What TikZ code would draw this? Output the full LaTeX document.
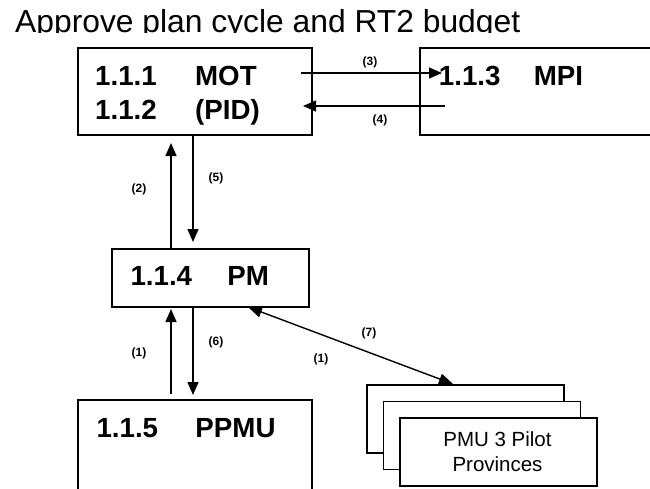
\documentclass[tikz,border=0pt]{standalone}
\usepackage{fontspec}
\setmainfont{Liberation Sans}
\usetikzlibrary{arrows.meta}
\tikzset{
  boxnode/.style={draw=black, line width=1.8pt, fill=white, rectangle, inner sep=0pt, anchor=north west},
  boldtext/.style={inner sep=0pt, anchor=base west, font=\bfseries\fontsize{27.7}{34}\selectfont},
  plaintext/.style={inner sep=0pt, anchor=base, font=\fontsize{20.5}{25}\selectfont},
  numlbl/.style={inner sep=0pt, font=\bfseries\fontsize{12}{13}\selectfont},
  conn/.style={line width=1.4pt, -{Triangle[length=13pt,width=11pt]}},
  dconn/.style={line width=1.4pt, {Triangle[length=14pt,width=11pt]}-{Triangle[length=14pt,width=11pt]}}
}
\begin{document}
\begin{tikzpicture}[x=1pt,y=-1pt]
\useasboundingbox (0,0) rectangle (650,488);
% title, clipped at its baseline as in the reference
\begin{scope}
\clip (0,0) rectangle (650,32.3);
\node[inner sep=0pt, anchor=base west, font=\fontsize{31.8}{36}\selectfont] (title) at (15,32.8) {Approve plan cycle and RT2 budget};
\end{scope}
% boxes
\node[boxnode, minimum width=234pt, minimum height=87pt] (mot) at (77,47) {};
\node[boxnode, minimum width=240pt, minimum height=87pt] (mpi) at (419,47) {};
\node[boxnode, minimum width=197pt, minimum height=58pt] (pm) at (111,248) {};
\node[boxnode, minimum width=234pt, minimum height=95pt] (ppmu) at (77,399) {};
\node[boxnode, minimum width=197pt, minimum height=68pt] (pmua) at (366,384.3) {};
\node[boxnode, minimum width=197pt, minimum height=68pt] (pmub) at (382.5,400.6) {};
\node[boxnode, minimum width=197pt, minimum height=68pt] (pmuc) at (399,417) {};
% box texts
\node[boldtext] (mottext) at (95,85) {\makebox[100pt][l]{1.1.1}MOT};
\node[boldtext] (pidtext) at (95,119.3) {\makebox[100pt][l]{1.1.2}(PID)};
\node[boldtext] (mpitext) at (438.7,85) {\makebox[95pt][l]{1.1.3}MPI};
\node[boldtext] (pmtext) at (130.3,285.7) {\makebox[97pt][l]{1.1.4}PM};
\node[boldtext] (ppmutext) at (96.3,437.7) {\makebox[99pt][l]{1.1.5}PPMU};
\node[plaintext] (pmutext1) at (497.5,446.7) {PMU 3 Pilot};
\node[plaintext] (pmutext2) at (497.5,471.7) {Provinces};
% connector end points
\coordinate (a3s) at (301,73);   \coordinate (a3e) at (442,73);
\coordinate (a4s) at (445,106);  \coordinate (a4e) at (303,106);
\coordinate (a2s) at (171,248);  \coordinate (a2e) at (171,143);
\coordinate (a5s) at (193,134);  \coordinate (a5e) at (193,242);
\coordinate (a1s) at (171,394);  \coordinate (a1e) at (171,309);
\coordinate (a6s) at (193,307);  \coordinate (a6e) at (193,395);
\coordinate (a7s) at (248,307);  \coordinate (a7e) at (453,384);
% connectors
\draw[conn] (a3s) -- (a3e);
\draw[conn] (a4s) -- (a4e);
\draw[conn] (a2s) -- (a2e);
\draw[conn] (a5s) -- (a5e);
\draw[conn] (a1s) -- (a1e);
\draw[conn] (a6s) -- (a6e);
\draw[dconn] (a7s) -- (a7e);
% labels
\node[numlbl] (l3) at (370,62) {(3)};
\node[numlbl] (l4) at (380,120) {(4)};
\node[numlbl] (l2) at (139,189) {(2)};
\node[numlbl] (l5) at (216,178) {(5)};
\node[numlbl] (l1a) at (139,353) {(1)};
\node[numlbl] (l6) at (216,342) {(6)};
\node[numlbl] (l7) at (369,333) {(7)};
\node[numlbl] (l1b) at (321,359) {(1)};
\end{tikzpicture}
\end{document}
